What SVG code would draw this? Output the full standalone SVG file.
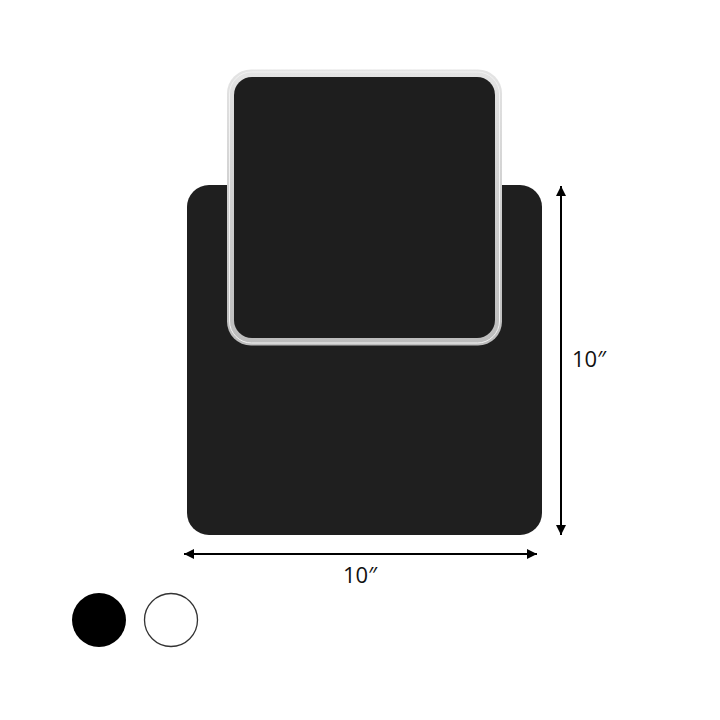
<svg xmlns="http://www.w3.org/2000/svg" width="720" height="720" viewBox="0 0 720 720">
<defs>
<style>
.dim{stroke:#000;stroke-width:2;fill:none}
.lbl{font-family:"Open Sans","Liberation Sans",sans-serif;font-size:22px;fill:#111}
</style>
<marker id="ah" viewBox="0 0 10 10" refX="10" refY="5" markerWidth="5" markerHeight="5" orient="auto-start-reverse" markerUnits="strokeWidth">
<path d="M0,0 L10,5 L0,10 z" fill="#000"/>
</marker>
<linearGradient id="acr" x1="0" y1="0" x2="0" y2="1">
<stop offset="0" stop-color="#e4e4e4"/>
<stop offset="0.45" stop-color="#d0d0d0"/>
<stop offset="1" stop-color="#bdbdbd"/>
</linearGradient>
</defs>
<rect width="720" height="720" fill="#fff"/>
<g id="back-panel">
<rect x="187" y="185" width="355" height="350" rx="22" fill="#1f1f1f"/>
</g>
<g id="front-panel">
<rect x="227" y="69.5" width="275" height="276" rx="24" fill="url(#acr)"/>
<rect x="229.5" y="72" width="270" height="271" rx="22" fill="none" stroke="#f2f2f2" stroke-width="1"/>
<rect x="234" y="77" width="261" height="261" rx="18" fill="#1e1e1e"/>
</g>
<g id="connectors">
<line class="dim" x1="561" y1="186" x2="561" y2="535" marker-start="url(#ah)" marker-end="url(#ah)"/>
<line class="dim" x1="184" y1="554" x2="537" y2="554" marker-start="url(#ah)" marker-end="url(#ah)"/>
</g>
<g id="labels">
<text class="lbl" x="572" y="367">10″</text>
<text class="lbl" x="360" y="583" text-anchor="middle">10″</text>
</g>
<g id="swatch-black">
<circle cx="99" cy="620" r="27" fill="#000"/>
</g>
<g id="swatch-white">
<circle cx="171" cy="620" r="26.5" fill="#fff" stroke="#333" stroke-width="1.3"/>
</g>
</svg>
